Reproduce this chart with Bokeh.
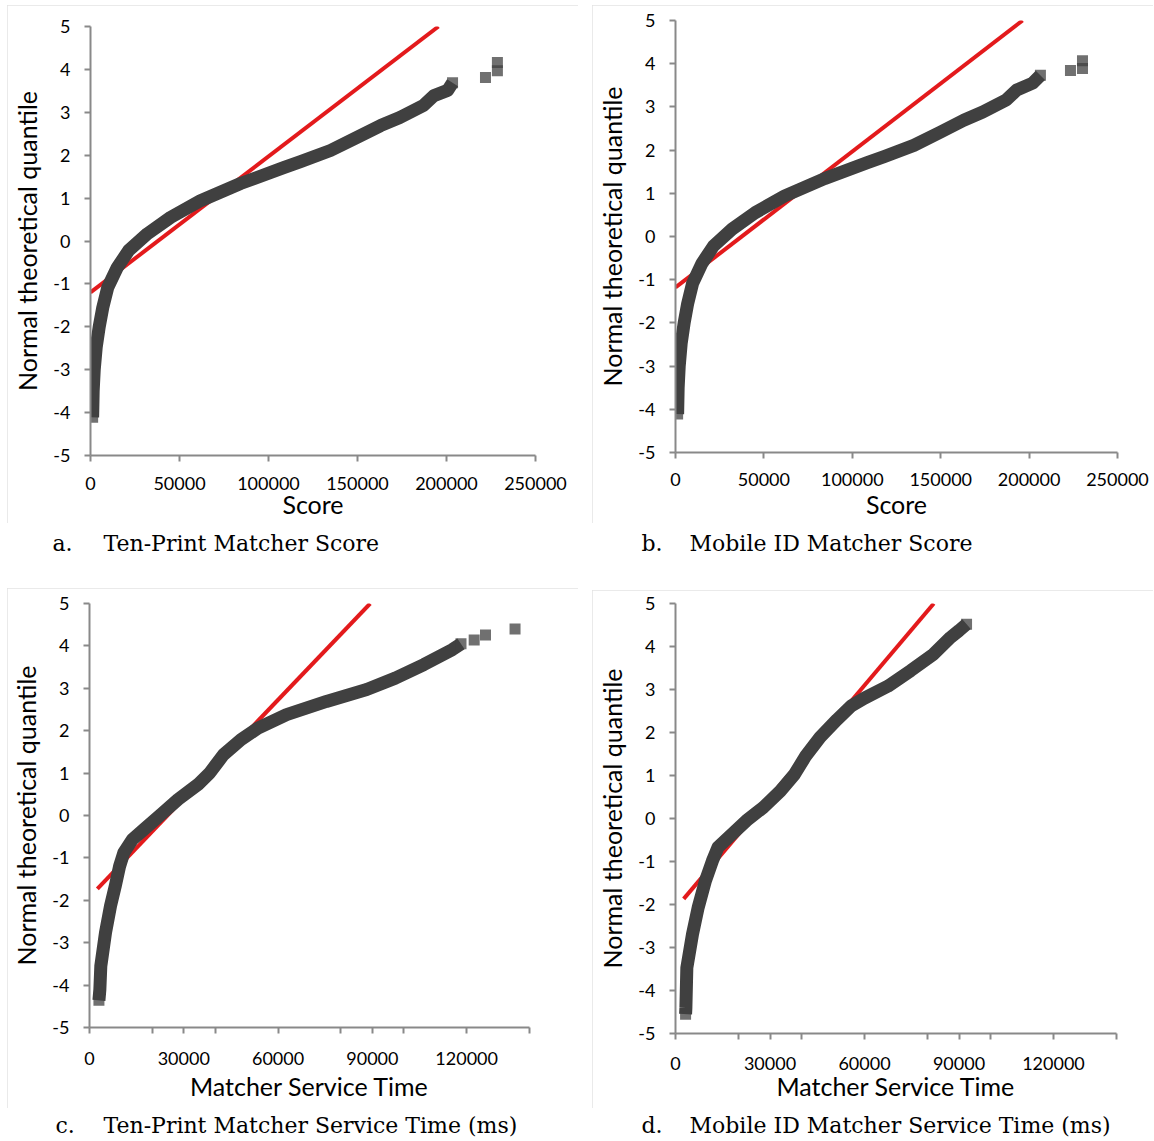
from bokeh.plotting import figure
from bokeh.models import Label, FixedTicker, Range1d
from bokeh.layouts import column, row
from bokeh.embed import file_html
from bokeh.resources import INLINE

# ---------------- data ----------------
# a. Ten-Print Matcher Score
a_score = [1200, 1500, 2100, 3200, 4900, 6900, 9700, 15000, 21500, 32000, 45000, 61800,
           84300, 108500, 118000, 134800, 150000, 163000, 173800, 187000, 193000, 200600, 203400]
a_quant = [-4.11, -3.5, -3.0, -2.48, -2.0, -1.55, -1.08, -0.62, -0.22, 0.17, 0.55, 0.94,
           1.34, 1.71, 1.85, 2.11, 2.42, 2.69, 2.88, 3.16, 3.39, 3.51, 3.69]
a_tail_score = [221900, 228600, 228600]
a_tail_quant = [3.81, 3.97, 4.16]
a_fit_score = [0, 195500]
a_fit_quant = [-1.2, 5.0]

# b. Mobile ID Matcher Score
b_score = [1200, 1500, 2100, 3200, 4900, 6900, 9700, 15000, 21500, 32000, 45000, 61800,
           84300, 108500, 118000, 134800, 150000, 163000, 173800, 187000, 193000, 202000, 206400]
b_quant = [-4.11, -3.5, -3.0, -2.48, -2.0, -1.55, -1.08, -0.62, -0.22, 0.17, 0.55, 0.94,
           1.34, 1.71, 1.85, 2.11, 2.42, 2.69, 2.88, 3.16, 3.39, 3.55, 3.73]
b_tail_score = [223400, 230200, 230200]
b_tail_quant = [3.84, 3.89, 4.07]
b_fit_score = [0, 196300]
b_fit_quant = [-1.18, 5.0]

# c. Ten-Print Matcher Service Time (ms)
c_time = [3000, 3300, 3600, 5100, 6700, 8200, 9600, 10900, 13600, 17300, 22700, 28200,
          34500, 38200, 42700, 48200, 53600, 62700, 75400, 88200, 97300, 106400, 115400, 118200]
c_quant = [-4.36, -4.1, -3.55, -2.76, -2.13, -1.66, -1.19, -0.88, -0.57, -0.33, 0.02, 0.38,
           0.73, 1.00, 1.44, 1.79, 2.06, 2.38, 2.69, 2.97, 3.24, 3.56, 3.91, 4.05]
c_tail_time = [122400, 126000, 135400]
c_tail_quant = [4.14, 4.26, 4.40]
c_fit_time = [2500, 89300]
c_fit_quant = [-1.73, 5.0]

# d. Mobile ID Matcher Service Time (ms)
d_time = [3200, 3300, 3600, 5400, 7200, 9500, 11700, 13500, 18000, 22500, 27900, 33300,
          37800, 41400, 45900, 51300, 55800, 60000, 67500, 74700, 81900, 87300, 90000, 92400]
d_quant = [-4.55, -4.40, -3.47, -2.69, -2.07, -1.45, -0.99, -0.67, -0.36, -0.05, 0.26, 0.64,
           1.03, 1.46, 1.89, 2.30, 2.62, 2.80, 3.08, 3.44, 3.82, 4.21, 4.37, 4.52]
d_tail_time = []
d_tail_quant = []
d_fit_time = [2600, 82000]
d_fit_quant = [-1.87, 5.0]

y_ticks = [-5, -4, -3, -2, -1, 0, 1, 2, 3, 4, 5]
score_ticks = [0, 50000, 100000, 150000, 200000, 250000]
time_ticks = [0, 30000, 60000, 90000, 120000]
time_minor_ticks = [20000, 40000, 80000, 100000, 140000]

captions = {
    "a": "Ten-Print Matcher Score",
    "b": "Mobile ID Matcher Score",
    "c": "Ten-Print Matcher Service Time (ms)",
    "d": "Mobile ID Matcher Service Time (ms)",
}

SANS = "Lato"
SERIF = "DejaVu Serif"
AXIS = "#898989"
BAND = "#404040"
RED = "#e31a1c"
BOXC = "#e3e3e3"


def chart(xs, ys, txs, tys, fx, fy, xmax, xticks, xminor, xlabel,
          fw, fh, left, top, right, bottom, margin, tick_sd, lab_sd):
    p = figure(frame_width=fw, frame_height=fh, min_border_left=left, min_border_top=top,
               min_border_right=right, min_border_bottom=bottom,
               x_range=Range1d(0, xmax), y_range=Range1d(-5, 5),
               output_backend="svg", toolbar_location=None, tools="",
               margin=margin,
               styles={"outline": "2px solid " + BOXC, "outline-offset": "-2px"})
    p.outline_line_color = None
    p.grid.visible = False
    p.background_fill_color = "white"
    p.border_fill_color = "white"

    p.line(fx, fy, line_color=RED, line_width=4)
    p.line(xs, ys, line_color=BAND, line_width=13, line_join="round")
    p.scatter([xs[0], xs[-1]], [ys[0], ys[-1]], marker="square", size=11,
              fill_color=BAND, fill_alpha=0.75, line_color=None)
    if txs:
        p.scatter(txs, tys, marker="square", size=11, fill_color=BAND,
                  fill_alpha=0.75, line_color=None)

    xa = p.xaxis[0]
    xa.ticker = FixedTicker(ticks=xticks, minor_ticks=xminor)
    xa.major_label_overrides = {t: str(t) for t in xticks}
    ya = p.yaxis[0]
    ya.ticker = FixedTicker(ticks=y_ticks, minor_ticks=[])
    ya.major_label_overrides = {t: str(t) for t in y_ticks}
    for ax in (xa, ya):
        ax.axis_line_color = AXIS
        ax.axis_line_width = 2
        ax.major_tick_line_color = AXIS
        ax.major_tick_line_width = 2
        ax.major_tick_out = 6
        ax.major_tick_in = 0
        ax.minor_tick_line_color = AXIS
        ax.minor_tick_line_width = 2
        ax.minor_tick_out = 6
        ax.minor_tick_in = 0
        ax.major_label_text_font = SANS
        ax.major_label_text_font_size = "18px"
        ax.major_label_text_color = "black"
        ax.axis_label_text_font = SANS
        ax.axis_label_text_font_size = "25px"
        ax.axis_label_text_font_style = "normal"
        ax.axis_label_text_color = "black"
    xa.major_label_standoff = tick_sd
    xa.axis_label_standoff = lab_sd
    ya.major_label_standoff = 14
    ya.axis_label_standoff = 8
    xa.axis_label = xlabel
    ya.axis_label = "Normal theoretical quantile"
    return p


def caption_fig(letter, text, w, h, cy, lx, tx):
    c = figure(width=w, height=h, min_border=0, x_range=Range1d(0, w), y_range=Range1d(0, h),
               output_backend="svg", toolbar_location=None, tools="")
    c.axis.visible = False
    c.grid.visible = False
    c.outline_line_color = None
    c.background_fill_color = "white"
    c.border_fill_color = "white"
    for txt, x in ((letter, lx), (text, tx)):
        c.add_layout(Label(x=x, y=h - cy, text=txt, text_font=SERIF, text_font_size="22px",
                           text_color="black", text_baseline="middle", text_align="left"))
    return row(c, spacing=0)


pa = chart(a_score, a_quant, a_tail_score, a_tail_quant, a_fit_score, a_fit_quant,
           250000, score_ticks, [], "Score",
           445, 429, 83, 21, 43, 68, (5, 7, 0, 7), 15, -4)
pb = chart(b_score, b_quant, b_tail_score, b_tail_quant, b_fit_score, b_fit_quant,
           250000, score_ticks, [], "Score",
           442, 432, 83, 15, 36, 71, (5, 1, 0, 7), 14, 0)
pc = chart(c_time, c_quant, c_tail_time, c_tail_quant, c_fit_time, c_fit_quant,
           140000, time_ticks, time_minor_ticks, "Matcher Service Time",
           440, 424, 82, 15, 49, 81, (16, 7, 0, 7), 18, 3)
pd_ = chart(d_time, d_quant, d_tail_time, d_tail_quant, d_fit_time, d_fit_quant,
            140000, time_ticks, time_minor_ticks, "Matcher Service Time",
            441, 430, 83, 13, 37, 75, (18, 1, 0, 7), 17, -2)

ca = caption_fig("a.", captions["a"], 585, 49, 20, 52, 103)
cb = caption_fig("b.", captions["b"], 569, 49, 20, 56, 104)
cc = caption_fig("c.", captions["c"], 585, 33, 17, 55, 103)
cd = caption_fig("d.", captions["d"], 569, 33, 17, 56, 104)

layout = column(
    row(column(row(pa), ca, spacing=0), column(row(pb), cb, spacing=0), spacing=0),
    row(column(row(pc), cc, spacing=0), column(row(pd_), cd, spacing=0), spacing=0),
    spacing=0)
open("out.html", "w").write(file_html(layout, INLINE))
